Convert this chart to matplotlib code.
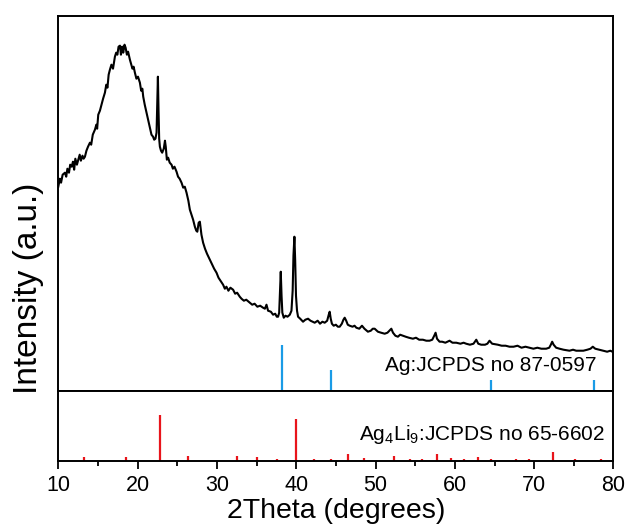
import numpy as np
import matplotlib.pyplot as plt

plt.rcParams['font.family'] = ['Liberation Sans', 'DejaVu Sans']
plt.rcParams['mathtext.default'] = 'regular'

# measured XRD pattern (2theta, intensity a.u.)
two_theta = [
    10.00, 10.20, 10.35, 10.55, 10.84, 11.00, 11.15, 11.35, 11.50, 11.69, 11.85, 12.00,
    12.15, 12.35, 12.52, 12.70, 12.85, 13.05, 13.20, 13.36, 13.55, 13.75, 13.99, 14.15,
    14.35, 14.62, 14.80, 14.90, 15.04, 15.25, 15.45, 15.65, 15.88, 16.05, 16.20, 16.35,
    16.51, 16.70, 16.90, 17.14, 17.30, 17.45, 17.60, 17.78, 17.90, 18.05, 18.19, 18.35,
    18.49, 18.65, 18.80, 19.03, 19.20, 19.35, 19.50, 19.66, 19.85, 20.05, 20.29, 20.45,
    20.60, 20.71, 20.90, 21.13, 21.30, 21.55, 21.75, 21.95, 22.09, 22.25, 22.39, 22.48,
    22.56, 22.64, 22.72, 22.81, 22.95, 23.10, 23.30, 23.45, 23.55, 23.69, 23.85, 24.05,
    24.28, 24.45, 24.65, 24.91, 25.10, 25.30, 25.54, 25.75, 25.95, 26.17, 26.40, 26.59,
    26.80, 27.00, 27.22, 27.40, 27.53, 27.70, 27.85, 28.05, 28.26, 28.50, 28.75, 29.11,
    29.40, 29.65, 29.95, 30.20, 30.45, 30.78, 31.00, 31.20, 31.45, 31.70, 32.04, 32.30,
    32.55, 32.88, 33.10, 33.40, 33.70, 34.14, 34.45, 34.75, 35.10, 35.45, 35.82, 36.05,
    36.25, 36.45, 36.80, 37.08, 37.35, 37.55, 37.71, 37.85, 37.95, 38.05, 38.15, 38.25,
    38.43, 38.65, 38.90, 39.19, 39.40, 39.55, 39.65, 39.77, 39.87, 39.97, 40.10, 40.23,
    40.50, 40.86, 41.15, 41.49, 41.80, 42.05, 42.33, 42.70, 43.00, 43.30, 43.59, 43.90,
    44.10, 44.22, 44.35, 44.50, 44.72, 45.00, 45.25, 45.48, 45.75, 45.95, 46.11, 46.30,
    46.50, 46.74, 47.10, 47.35, 47.58, 47.95, 48.29, 48.60, 49.04, 49.40, 49.65, 49.89,
    50.30, 50.70, 51.15, 51.50, 51.75, 51.99, 52.20, 52.50, 52.82, 53.10, 53.45, 53.80,
    54.20, 54.71, 55.10, 55.50, 55.97, 56.40, 56.81, 57.15, 57.40, 57.57, 57.75, 58.07,
    58.40, 58.80, 59.33, 59.70, 60.18, 60.70, 61.10, 61.43, 61.90, 62.35, 62.70, 62.95,
    63.32, 63.80, 64.10, 64.37, 64.70, 65.42, 65.90, 66.40, 66.89, 67.40, 67.90, 68.40,
    68.90, 69.41, 69.90, 70.40, 70.90, 71.51, 71.90, 72.10, 72.27, 72.45, 72.77, 73.20,
    73.70, 74.45, 74.90, 75.30, 75.71, 76.20, 76.70, 77.10, 77.39, 77.70, 78.23, 78.70,
    79.20, 79.60, 79.87, 80.00]
intensity = [
    204, 212, 208, 216, 218, 214, 222, 218, 226, 224, 229, 221,
    232, 226, 231, 236, 230, 235, 232, 234, 240, 244, 248, 246,
    256, 261, 266, 262, 276, 280, 286, 292, 298, 306, 303, 316,
    321, 326, 322, 334, 338, 336, 344, 345, 336, 344, 338, 346,
    343, 336, 339, 331, 326, 322, 324, 318, 312, 314, 308, 300,
    302, 294, 286, 278, 272, 263, 256, 254, 251, 252, 258, 290,
    314, 280, 252, 244, 240, 238, 242, 250, 244, 231, 233, 228,
    226, 222, 224, 219, 214, 212, 208, 203, 204, 198, 190, 181,
    176, 171, 164, 160, 159, 168, 169, 156, 148, 142, 137, 131,
    126, 122, 118, 113, 110, 106, 102, 104, 100, 103, 101, 97,
    98, 94, 92, 90, 91, 88, 86, 87, 84, 85, 83, 82,
    86, 80, 79, 76, 77, 74, 74, 78, 100, 119, 95, 78,
    73, 75, 74, 76, 80, 100, 135, 154, 130, 95, 80, 74,
    72, 69, 71, 72, 70, 69, 68, 70, 67, 69, 68, 70,
    76, 79, 72, 67, 65, 66, 64, 64, 67, 71, 73, 70,
    66, 65, 64, 65, 63, 62, 65, 62, 59, 60, 62, 62,
    59, 58, 57, 58, 60, 62, 58, 55, 54, 56, 55, 54,
    53, 52, 53, 51, 51, 50, 50, 51, 55, 58, 52, 49,
    49, 48, 50, 48, 48, 47, 48, 47, 46, 47, 51, 47,
    46, 46, 47, 50, 47, 46, 45, 45, 44, 44, 45, 43,
    44, 43, 42, 43, 42, 42, 43, 46, 49, 46, 43, 42,
    41, 40, 41, 40, 40, 40, 41, 42, 44, 42, 41, 40,
    39, 40, 39, 39]

# reference patterns
ag_pos = [38.2, 44.4, 64.5, 77.5]
ag_int = [46, 21, 10.5, 10.5]
agli_pos = [13.2, 18.6, 22.85, 26.4, 32.5, 35.1, 37.6, 39.95, 42.2, 44.4, 46.5, 48.5,
            52.3, 54.3, 55.9, 57.8, 59.5, 61.1, 62.9, 64.6, 67.7, 69.4, 72.4, 75.1, 78.4]
agli_int = [4, 4, 46, 5, 5, 4, 2, 42, 2, 2, 7, 3,
            5, 2, 2, 7, 3, 2, 4, 2, 2, 2, 9, 2, 2]

fig = plt.figure(figsize=(6.28, 5.29), dpi=100)
ax1 = fig.add_axes([0.0928, 0.2614, 0.8841, 0.7084])
ax2 = fig.add_axes([0.0928, 0.1291, 0.8841, 0.1323])

ax1.plot(two_theta, intensity, color='black', lw=1.5)
ax1.vlines(ag_pos, 0, ag_int, color='#1a9be6', lw=1.6)
ax1.text(77.8, 25.5, 'Ag:JCPDS no 87-0597', fontsize=15, ha='right', va='center')
ax1.set_xlim(10, 80)
ax1.set_ylim(0, 374.7)
ax1.set_xticks([])
ax1.set_yticks([])

ax2.vlines(agli_pos, 0, agli_int, color='#e8141b', lw=1.6)
ax2.text(79.0, 26.5, 'Ag$_4$Li$_9$:JCPDS no 65-6602', fontsize=15, ha='right', va='center')
ax2.set_xlim(10, 80)
ax2.set_ylim(0, 70)
ax2.set_yticks([])
ax2.set_xticks(np.arange(10, 81, 10))
ax2.set_xticks(np.arange(15, 80, 10), minor=True)
ax2.tick_params(axis='x', which='major', direction='out', length=6, width=1.3, labelsize=15.5, pad=4)
ax2.tick_params(axis='x', which='minor', direction='out', length=3.5, width=1.3)
ax2.set_xlabel('2Theta (degrees)', fontsize=20.5, labelpad=2)

for ax in (ax1, ax2):
    for s in ax.spines.values():
        s.set_linewidth(1.4)

fig.text(0.045, 1 - 288 / 529, 'Intensity (a.u.)', fontsize=24, rotation=90, ha='center', va='center')

fig.savefig('out.png', dpi=100)
